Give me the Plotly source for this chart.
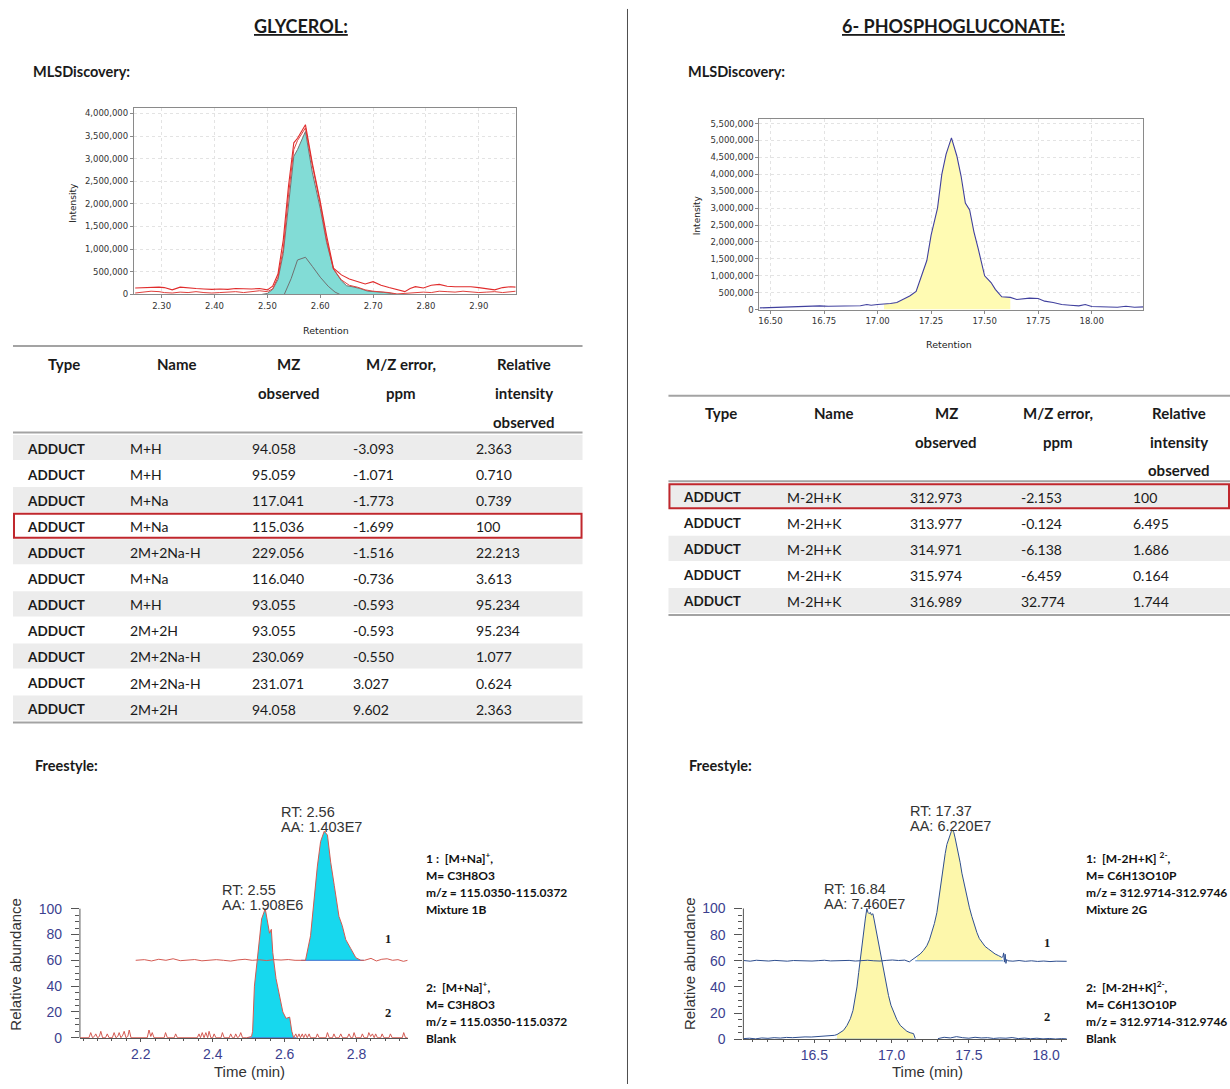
import numpy as np
import plotly.graph_objects as go

# ---------------------------------------------------------------------------
# MLSDiscovery - glycerol extracted-ion chromatograms (retention in min, counts)
gly_mls_rt = [2.250, 2.265, 2.280, 2.295, 2.305, 2.320, 2.335, 2.350, 2.365, 2.380,
              2.395, 2.410, 2.425, 2.440, 2.455, 2.470, 2.485, 2.500, 2.510, 2.520,
              2.530, 2.540, 2.550, 2.557, 2.572, 2.585, 2.600, 2.612, 2.625, 2.640,
              2.655, 2.670, 2.685, 2.700, 2.715, 2.730, 2.745, 2.760, 2.770, 2.780,
              2.795, 2.810, 2.825, 2.840, 2.855, 2.870, 2.885, 2.900, 2.915, 2.930,
              2.945, 2.960, 2.970]
gly_mls_upper = [140000, 150000, 160000, 160000, 150000, 100000, 160000, 140000, 130000, 120000,
                 110000, 120000, 110000, 130000, 120000, 120000, 130000, 100000, 180000, 450000,
                 1200000, 2400000, 3350000, 3450000, 3750000, 2900000, 2050000, 1300000, 580000, 430000,
                 340000, 290000, 230000, 280000, 200000, 150000, 110000, 60000, 130000, 170000,
                 140000, 200000, 220000, 180000, 170000, 170000, 170000, 150000, 120000, 100000,
                 150000, 170000, 160000]
gly_mls_lower = [30000, 50000, 70000, 60000, 40000, 30000, 50000, 40000, 60000, 40000,
                 30000, 40000, 50000, 60000, 40000, 60000, 80000, 60000, 120000, 380000,
                 1000000, 2200000, 3200000, 3400000, 3680000, 2850000, 2000000, 1200000, 560000, 320000,
                 200000, 160000, 100000, 70000, 60000, 40000, 10000, 20000, 40000, 40000,
                 50000, 40000, 70000, 60000, 50000, 70000, 60000, 40000, 50000, 60000,
                 40000, 60000, 70000]
gly_mls_peak_rt = [2.490, 2.500, 2.510, 2.520, 2.530, 2.540, 2.550, 2.557, 2.572, 2.585, 2.600,
                   2.612, 2.625, 2.640, 2.650, 2.660, 2.675, 2.690, 2.705, 2.720, 2.735, 2.745]
gly_mls_peak_int = [0, 20000, 110000, 330000, 900000, 2000000, 3050000, 3200000, 3600000, 2700000, 1900000,
                    1150000, 560000, 300000, 190000, 170000, 130000, 70000, 60000, 45000, 20000, 0]
gly_mls_iso_rt = [2.532, 2.545, 2.557, 2.572, 2.585, 2.600, 2.615, 2.628, 2.637]
gly_mls_iso_int = [0, 350000, 760000, 820000, 620000, 380000, 180000, 50000, 0]

# MLSDiscovery - 6-phosphogluconate
pg_mls_rt = [16.45, 16.50, 16.55, 16.60, 16.63, 16.67, 16.70, 16.73, 16.77, 16.80,
             16.85, 16.88, 16.92, 16.95, 16.97, 17.00, 17.03, 17.06, 17.09, 17.12,
             17.15, 17.18, 17.20, 17.23, 17.25, 17.28, 17.30, 17.32, 17.345, 17.37,
             17.39, 17.41, 17.43, 17.45, 17.47, 17.50, 17.53, 17.55, 17.58, 17.62,
             17.65, 17.68, 17.71, 17.75, 17.78, 17.82, 17.86, 17.90, 17.94, 17.97,
             18.00, 18.04, 18.08, 18.12, 18.16, 18.20, 18.25]
pg_mls_int = [50000, 60000, 80000, 100000, 90000, 100000, 100000, 110000, 100000, 105000,
              110000, 120000, 115000, 150000, 130000, 150000, 160000, 180000, 210000, 300000,
              400000, 540000, 900000, 1450000, 2200000, 3000000, 4000000, 4600000, 5080000, 4550000,
              3950000, 3150000, 2950000, 2300000, 1800000, 1000000, 800000, 600000, 380000, 360000,
              300000, 320000, 340000, 330000, 250000, 210000, 150000, 130000, 110000, 150000,
              90000, 85000, 80000, 70000, 100000, 70000, 80000]
pg_mls_window = [17.03, 17.62]

# ---------------------------------------------------------------------------
# Adduct tables
table_header = ["Type", "Name", "MZ\nobserved", "M/Z error,\nppm", "Relative\nintensity\nobserved"]

gly_type = ["ADDUCT", "ADDUCT", "ADDUCT", "ADDUCT", "ADDUCT", "ADDUCT",
            "ADDUCT", "ADDUCT", "ADDUCT", "ADDUCT", "ADDUCT"]
gly_name = ["M+H", "M+H", "M+Na", "M+Na", "2M+2Na-H", "M+Na",
            "M+H", "2M+2H", "2M+2Na-H", "2M+2Na-H", "2M+2H"]
gly_mz = [94.058, 95.059, 117.041, 115.036, 229.056, 116.040,
          93.055, 93.055, 230.069, 231.071, 94.058]
gly_err = [-3.093, -1.071, -1.773, -1.699, -1.516, -0.736,
           -0.593, -0.593, -0.550, 3.027, 9.602]
gly_rel = [2.363, 0.710, 0.739, 100, 22.213, 3.613,
           95.234, 95.234, 1.077, 0.624, 2.363]
gly_selected = 3

pg_type = ["ADDUCT", "ADDUCT", "ADDUCT", "ADDUCT", "ADDUCT"]
pg_name = ["M-2H+K", "M-2H+K", "M-2H+K", "M-2H+K", "M-2H+K"]
pg_mz = [312.973, 313.977, 314.971, 315.974, 316.989]
pg_err = [-2.153, -0.124, -6.138, -6.459, 32.774]
pg_rel = [100, 6.495, 1.686, 0.164, 1.744]
pg_selected = 0

# ---------------------------------------------------------------------------
# Freestyle - glycerol (relative abundance vs time, min)
gly_fs_mix_rt = [2.036, 2.060, 2.080, 2.100, 2.120, 2.140, 2.160, 2.180, 2.200, 2.220,
                 2.240, 2.260, 2.280, 2.300, 2.320, 2.340, 2.360, 2.380, 2.400, 2.420,
                 2.440, 2.460, 2.479, 2.508, 2.522, 2.531, 2.541, 2.550, 2.560, 2.569,
                 2.578, 2.588, 2.601, 2.610, 2.620, 2.634, 2.648, 2.662, 2.672, 2.690,
                 2.705, 2.720, 2.735, 2.750, 2.765, 2.780, 2.792]
gly_fs_mix_ab = [0.0, 0.5, -0.5, 0.8, 0.0, 1.2, -0.3, 0.4, 0.6, -0.4,
                 0.2, 0.5, 0.0, -0.6, 0.3, 0.8, 0.0, 0.4, -0.2, 0.5,
                 0.2, 0.6, 0.0, 0.0, 19, 45, 73, 92, 100, 97,
                 76, 58, 34, 27, 16, 9, 2, 0.0, 0.0, 1.5,
                 -0.5, 0.8, 1.2, 0.0, 0.5, -0.8, 0.0]
gly_fs_mix_window = [2.508, 2.662]
gly_fs_mix_area = 1.403e7

gly_fs_blank_rt = [2.031, 2.056, 2.061, 2.066, 2.071, 2.075, 2.080, 2.085, 2.089, 2.094,
                   2.102, 2.107, 2.112, 2.121, 2.126, 2.131, 2.136, 2.140, 2.145, 2.150,
                   2.154, 2.159, 2.164, 2.168, 2.173, 2.218, 2.223, 2.228, 2.232, 2.237,
                   2.265, 2.269, 2.274, 2.293, 2.297, 2.302, 2.357, 2.362, 2.366, 2.371,
                   2.376, 2.381, 2.386, 2.390, 2.395, 2.400, 2.404, 2.409, 2.423, 2.427,
                   2.432, 2.446, 2.450, 2.455, 2.460, 2.464, 2.469, 2.474, 2.478, 2.483,
                   2.495, 2.508, 2.511, 2.516, 2.523, 2.530, 2.536, 2.546, 2.551, 2.558,
                   2.563, 2.567, 2.576, 2.586, 2.595, 2.604, 2.614, 2.620, 2.625, 2.631,
                   2.635, 2.640, 2.644, 2.649, 2.653, 2.658, 2.663, 2.668, 2.672, 2.687,
                   2.691, 2.696, 2.715, 2.719, 2.724, 2.733, 2.737, 2.742, 2.751, 2.756,
                   2.761, 2.774, 2.779, 2.784, 2.789, 2.793, 2.798, 2.812, 2.816, 2.821,
                   2.830, 2.834, 2.839, 2.844, 2.849, 2.853, 2.858, 2.867, 2.871, 2.876,
                   2.890, 2.894, 2.899, 2.927, 2.931, 2.936, 2.942]
gly_fs_blank_ab = [0, 0, 4, 0, 1, 3, 0, 1, 5, 0,
                   0, 3, 0, 0, 4, 0, 1, 4, 0, 2,
                   5, 0, 1, 6, 0, 0, 6, 1, 4, 0,
                   0, 4, 0, 0, 3, 0, 0, 3, 0, 4,
                   0, 4, 0, 5, 0, 0, 3, 0, 0, 4,
                   0, 0, 3, 0, 0, 3, 0, 1, 4, 0,
                   0, 1, 5, 40, 58, 79, 92, 100, 92, 81,
                   84, 66, 46, 33, 20, 15, 16, 5, 0, 3,
                   0, 3, 0, 3, 0, 3, 0, 3, 0, 0,
                   3, 0, 0, 4, 0, 0, 3, 0, 0, 3,
                   0, 0, 3, 0, 0, 4, 0, 0, 3, 0,
                   0, 4, 1, 3, 0, 3, 0, 0, 3, 0,
                   0, 3, 0, 0, 4, 0, 0]
gly_fs_blank_window = [2.508, 2.625]
gly_fs_blank_area = 1.908e6

# stacked display offsets of the mixture trace (time, abundance)
gly_fs_mix_offset = [0.15, 60]

# Freestyle - 6-phosphogluconate
pg_fs_mix_rt = [16.018, 16.060, 16.100, 16.140, 16.180, 16.220, 16.260, 16.300, 16.340, 16.380,
                16.420, 16.460, 16.500, 16.540, 16.580, 16.620, 16.660, 16.700, 16.740, 16.780,
                16.820, 16.860, 16.900, 16.940, 16.980, 17.020, 17.060, 17.090, 17.117, 17.140,
                17.160, 17.182, 17.203, 17.220, 17.236, 17.252, 17.268, 17.279, 17.290, 17.301,
                17.311, 17.322, 17.333, 17.344, 17.354, 17.362, 17.370, 17.378, 17.386, 17.397,
                17.408, 17.419, 17.430, 17.446, 17.462, 17.478, 17.494, 17.510, 17.527, 17.543,
                17.559, 17.580, 17.602, 17.623, 17.645, 17.666, 17.688, 17.695, 17.700, 17.705,
                17.710, 17.715, 17.720, 17.728, 17.760, 17.800, 17.840, 17.880, 17.920, 17.960,
                18.000, 18.040, 18.080, 18.108]
pg_fs_mix_ab = [0.2, -0.3, 0.4, 0.0, -0.2, 0.3, 0.1, -0.3, 0.2, 0.0,
                0.3, -0.2, 0.1, 0.4, -0.1, 0.2, 0.0, 0.3, -0.2, 0.1,
                0.4, 0.0, -0.2, 0.3, 0.6, 0.2, 0.5, -0.8, 1.4, 3.0,
                5.2, 8.0, 11.5, 16.0, 21.6, 28.5, 36.8, 46.0, 57.0, 66.0,
                75.0, 82.0, 89.0, 93.0, 96.0, 99.0, 100.0, 98.0, 94.0, 88.0,
                82.0, 75.0, 67.0, 58.0, 49.5, 41.0, 34.0, 27.0, 21.6, 17.0,
                14.0, 11.0, 9.0, 7.0, 5.2, 4.0, 2.6, 3.0, 6.0, -1.0,
                5.0, -2.0, 1.0, 0.0, -0.3, 0.2, -0.4, 0.0, -0.5, -0.2,
                -0.6, -0.3, -0.5, -0.4]
pg_fs_mix_window = [17.140, 17.688]
pg_fs_mix_area = 6.220e7
pg_fs_mix_offset = [0.025, 60]

pg_fs_blank_rt = [16.043, 16.080, 16.120, 16.160, 16.200, 16.240, 16.280, 16.320, 16.360, 16.400,
                  16.440, 16.480, 16.520, 16.560, 16.600, 16.630, 16.647, 16.669, 16.689, 16.711,
                  16.733, 16.750, 16.765, 16.776, 16.787, 16.798, 16.808, 16.820, 16.830, 16.840,
                  16.847, 16.855, 16.862, 16.870, 16.879, 16.886, 16.894, 16.905, 16.916, 16.932,
                  16.948, 16.964, 16.980, 16.996, 17.013, 17.034, 17.056, 17.078, 17.099, 17.120,
                  17.142, 17.153, None, 17.300, 17.340, 17.380, 17.420, 17.460, 17.500, 17.540,
                  17.580, 17.620, 17.660, 17.700, 17.740, 17.780, 17.820, 17.860, 17.900, 17.940,
                  17.980, 18.020, 18.060, 18.100, 18.133]
pg_fs_blank_ab = [0.5, 0.8, 0.3, 1.0, 0.7, 1.2, 0.9, 1.4, 1.2, 1.6,
                  1.8, 1.7, 2.0, 2.2, 2.6, 3.0, 3.6, 5.0, 6.8, 10.5,
                  15.7, 22.0, 31.0, 40.0, 51.0, 62.0, 74.0, 84.0, 92.0, 100.0,
                  97.0, 96.0, 97.0, 95.0, 96.0, 92.0, 87.0, 79.0, 71.0, 61.0,
                  51.0, 42.0, 33.5, 26.0, 20.8, 15.0, 10.6, 8.0, 6.1, 5.0,
                  4.3, 0.5, None, 0.5, 1.5, 1.0, 2.0, 1.2, 0.8, 1.5,
                  1.0, 1.2, 0.6, 1.0, 0.8, 1.3, 0.5, 0.9, 0.4, 0.8,
                  0.3, 0.6, 0.2, 0.5, 0.3]
pg_fs_blank_window = [16.647, 17.142]
pg_fs_blank_area = 7.460e7

# ion descriptions printed next to the Freestyle panels
gly_ion_notes = [["1 :\u00a0 [M+Na]<sup>+</sup>,", "M= C3H8O3", "m/z = 115.0350-115.0372", "Mixture 1B"],
                 ["2:\u00a0 [M+Na]<sup>+</sup>,", "M= C3H8O3", "m/z = 115.0350-115.0372", "Blank"]]
pg_ion_notes = [["1:\u00a0 [M-2H+K]\u00a0<sup>2-</sup>,", "M= C6H13O10P", "m/z = 312.9714-312.9746", "Mixture 2G"],
                ["2:\u00a0 [M-2H+K]<sup>2-</sup>,", "M= C6H13O10P", "m/z = 312.9714-312.9746", "Blank"]]

# ---------------------------------------------------------------------------
W, H = 1230, 1089
DOC_FONT = "Lato, Carlito, Calibri, sans-serif"
MLS_FONT = "DejaVu Sans, Verdana, sans-serif"
XC_FONT = "Liberation Sans, Arial, sans-serif"
SERIF = "Liberation Serif, Times New Roman, serif"
PAD = 3  # inner padding plotly puts around annotation text


def px(x):
    return x / W


def py(y):
    return 1 - y / H


fig = go.Figure()
annotations = []
shapes = []


def text(x, y, s, size=13, family=DOC_FONT, color="#1a1a1a", xanchor="left", yanchor="middle",
         angle=0, align="left"):
    if xanchor == "left":
        x -= PAD
    annotations.append(dict(x=px(x), y=py(y), xref="paper", yref="paper", text=s, showarrow=False,
                            xanchor=xanchor, yanchor=yanchor, textangle=angle, align=align,
                            font=dict(family=family, size=size, color=color)))


def hline(x0, x1, y, color="#a3a3a3", width=2):
    shapes.append(dict(type="line", xref="paper", yref="paper", x0=px(x0), x1=px(x1),
                       y0=py(y), y1=py(y), line=dict(color=color, width=width)))


def fmt_num(v):
    return f"{v:.0f}" if float(v).is_integer() else f"{v:.3f}"


def fmt_area(a):
    e = int(np.floor(np.log10(a)))
    return f"{a / 10 ** e:.3f}E{e}"


# ---------------- headings ----------------
text(300, 25, "<b><u>GLYCEROL:</u></b>", size=18, xanchor="center")
text(953, 25, "<b><u>6- PHOSPHOGLUCONATE:</u></b>", size=18, xanchor="center")
text(33, 71, "<b>MLSDiscovery:</b>", size=14.5)
text(689, 71, "<b>MLSDiscovery:</b>", size=14.5)
text(35, 769, "<b>Freestyle:</b>", size=14.5)
text(690, 769, "<b>Freestyle:</b>", size=14.5)
shapes.append(dict(type="line", xref="paper", yref="paper", x0=px(627), x1=px(627),
                   y0=py(8), y1=py(1089), line=dict(color="#4d4d4d", width=1)))

# ---------------- MLSDiscovery panels ----------------
fig.add_trace(go.Scatter(x=gly_mls_peak_rt, y=gly_mls_peak_int, mode="lines", fill="tozeroy",
                         fillcolor="#82dcd6", line=dict(color="#737373", width=1),
                         xaxis="x", yaxis="y", hoverinfo="skip"))
fig.add_trace(go.Scatter(x=gly_mls_iso_rt, y=gly_mls_iso_int, mode="lines",
                         line=dict(color="#707070", width=1), xaxis="x", yaxis="y", hoverinfo="skip"))
fig.add_trace(go.Scatter(x=gly_mls_rt, y=gly_mls_lower, mode="lines",
                         line=dict(color="#e0413d", width=1), xaxis="x", yaxis="y", hoverinfo="skip"))
fig.add_trace(go.Scatter(x=gly_mls_rt, y=gly_mls_upper, mode="lines",
                         line=dict(color="#e02c2c", width=1.1), xaxis="x", yaxis="y", hoverinfo="skip"))

pg_fill = [(r, v) for r, v in zip(pg_mls_rt, pg_mls_int) if pg_mls_window[0] <= r <= pg_mls_window[1]]
fig.add_trace(go.Scatter(x=[r for r, _ in pg_fill], y=[v for _, v in pg_fill], mode="lines",
                         fill="tozeroy", fillcolor="#fffbb3", line=dict(width=0),
                         xaxis="x2", yaxis="y2", hoverinfo="skip"))
fig.add_trace(go.Scatter(x=pg_mls_rt, y=pg_mls_int, mode="lines",
                         line=dict(color="#40409e", width=1.1), xaxis="x2", yaxis="y2", hoverinfo="skip"))

mls_axis = dict(showline=True, mirror=True, linecolor="#8a8a8a", linewidth=1, ticks="outside",
                ticklen=3, tickcolor="#8a8a8a", showgrid=True, gridcolor="#e3e3e3", griddash="dot",
                gridwidth=1, zeroline=False, tickfont=dict(family=MLS_FONT, size=8.5, color="#333333"))

text(72, 203, "Intensity", size=9, family=MLS_FONT, color="#222222", xanchor="center", angle=-90)
text(325, 331, "Retention", size=9.5, family=MLS_FONT, color="#222222", xanchor="center")
text(696, 215, "Intensity", size=9, family=MLS_FONT, color="#222222", xanchor="center", angle=-90)
text(949, 345, "Retention", size=9.5, family=MLS_FONT, color="#222222", xanchor="center")

# ---------------- adduct tables ----------------
ROW_H = 26.2


def draw_table(x0, x1, top_line, header_y, first_row_y, centers, lefts, columns, selected):
    hline(x0, x1, top_line)
    for c, head in enumerate(table_header):
        for k, part in enumerate(head.split("\n")):
            text(centers[c], header_y + 29 * k, f"<b>{part}</b>", size=15, xanchor="center")
    n = len(columns[0])
    hline(x0, x1, first_row_y - ROW_H / 2 - 2)
    for i in range(n):
        yc = first_row_y + ROW_H * i
        if i % 2 == 0:
            shapes.append(dict(type="rect", xref="paper", yref="paper", x0=px(x0), x1=px(x1),
                               y0=py(yc + ROW_H / 2 - 0.5), y1=py(yc - ROW_H / 2 + 0.5),
                               fillcolor="#ececec", line=dict(width=0), layer="below"))
        for c, col in enumerate(columns):
            v = col[i]
            s = v if isinstance(v, str) else fmt_num(v)
            if c == 0:
                text(lefts[c], yc + 1, f"<b>{s}</b>", size=13.5)
            else:
                text(lefts[c], yc + 1, s, size=14)
    hline(x0, x1, first_row_y + ROW_H * (n - 0.5) + 1.5)
    ys = first_row_y + ROW_H * selected
    shapes.append(dict(type="rect", xref="paper", yref="paper", x0=px(x0 + 1), x1=px(x1 - 1),
                       y0=py(ys + 12), y1=py(ys - 12), line=dict(color="#c0272d", width=2)))


draw_table(12, 582, 347, 365, 449, [63, 176, 288, 400, 523], [27, 130, 252, 353, 476],
           [gly_type, gly_name, gly_mz, gly_err, gly_rel], gly_selected)
draw_table(668, 1230, 397, 414, 498, [721, 834, 946, 1058, 1179], [684, 788, 911, 1022, 1134],
           [pg_type, pg_name, pg_mz, pg_err, pg_rel], pg_selected)

# ---------------- Freestyle panels ----------------
XC_LINE = {"x3": "#d45a52", "x4": "#2f4f8f"}
XC_FILL = {"x3": "#17d8ee", "x4": "#fdf7ab"}
XC_BASE = {"x3": "#3a6fd0", "x4": "#5a8fd0"}
XC_LABEL = dict(family=XC_FONT, size=14.5, color="#333333")


def xc_trace(rt, ab, window, area, offset, xa, ya):
    dx, dy = offset
    inside = [(r, a) for r, a in zip(rt, ab) if r is not None and window[0] <= r <= window[1]]
    fx = [r + dx for r, _ in inside] + [window[1] + dx, window[0] + dx]
    fy = [a + dy for _, a in inside] + [dy, dy]
    fill = go.Scatter(x=fx, y=fy, mode="lines", fill="toself", fillcolor=XC_FILL[xa],
                      line=dict(width=0), xaxis=xa, yaxis=ya, hoverinfo="skip")
    base = go.Scatter(x=[window[0] + dx - 0.012, window[1] + dx + 0.008], y=[dy, dy], mode="lines",
                      line=dict(color=XC_BASE[xa], width=1), xaxis=xa, yaxis=ya, hoverinfo="skip")
    line = go.Scatter(x=[None if r is None else r + dx for r in rt],
                      y=[None if a is None else a + dy for a in ab], mode="lines",
                      line=dict(color=XC_LINE[xa], width=1), connectgaps=False,
                      xaxis=xa, yaxis=ya, hoverinfo="skip")
    r_apex, a_apex = max(inside, key=lambda p: p[1])
    for label, lift in ((f"RT: {r_apex:.2f}", 19), (f"AA: {fmt_area(area)}", 4)):
        annotations.append(dict(x=r_apex + dx, y=a_apex + dy, xref=xa, yref=ya, text=label,
                                showarrow=False, xanchor="left", yanchor="middle",
                                xshift=-45, yshift=lift, font=XC_LABEL))
    return fill, base, line


gly_parts = [xc_trace(gly_fs_mix_rt, gly_fs_mix_ab, gly_fs_mix_window, gly_fs_mix_area,
                      gly_fs_mix_offset, "x3", "y3"),
             xc_trace(gly_fs_blank_rt, gly_fs_blank_ab, gly_fs_blank_window, gly_fs_blank_area,
                      [0, 0], "x3", "y3")]
pg_parts = [xc_trace(pg_fs_mix_rt, pg_fs_mix_ab, pg_fs_mix_window, pg_fs_mix_area,
                     pg_fs_mix_offset, "x4", "y4"),
            xc_trace(pg_fs_blank_rt, pg_fs_blank_ab, pg_fs_blank_window, pg_fs_blank_area,
                     [0, 0], "x4", "y4")]
for parts in (gly_parts, pg_parts):
    for k in range(3):
        for p in parts:
            fig.add_trace(p[k])

# geometry of the two Freestyle plots (pixel rows of abundance 0 and pixel per unit)
GLY_Y0, GLY_S = 1042.5, 1.298
PG_Y0, PG_S = 1044.0, 1.315
AB_RANGE = [-3, 190]

xc_tickfont = dict(family=XC_FONT, size=14, color="#3c3f8f")
xc_x = dict(showline=True, linecolor="#555555", linewidth=1, ticks="outside", ticklen=3,
            tickcolor="#555555", showgrid=False, zeroline=False, tickfont=xc_tickfont,
            anchor="free", tickformat=".1f")
xc_y = dict(showline=False, showgrid=False, zeroline=False, ticks="outside", ticklen=8,
            tickcolor="#555555", tickfont=xc_tickfont, range=AB_RANGE, ticklabelstandoff=6,
            tickmode="array", tickvals=[0, 20, 40, 60, 80, 100],
            minor=dict(tickmode="array", tickvals=[v for v in range(5, 100, 5) if v % 20],
                       ticks="outside", ticklen=4, tickcolor="#555555", showgrid=False))

for xa_px, ya in ((79, "y3"), (743, "y4")):
    shapes.append(dict(type="line", xref="paper", yref=ya, x0=px(xa_px), x1=px(xa_px), y0=0, y1=100,
                       line=dict(color="#555555", width=1)))

text(15, 968, "Relative abundance", size=15, family=XC_FONT, color="#333333", xanchor="center", angle=-90)
text(249, 1076, "Time (min)", size=15, family=XC_FONT, color="#333333", xanchor="center")
text(689, 968, "Relative abundance", size=15, family=XC_FONT, color="#333333", xanchor="center", angle=-90)
text(927, 1076, "Time (min)", size=15, family=XC_FONT, color="#333333", xanchor="center")

text(387, 943, "<b>1</b>", size=12.5, family=SERIF, xanchor="center")
text(387, 1018, "<b>2</b>", size=12.5, family=SERIF, xanchor="center")
text(1047, 947, "<b>1</b>", size=12.5, family=SERIF, xanchor="center")
text(1047, 1022, "<b>2</b>", size=12.5, family=SERIF, xanchor="center")

for notes, x0 in ((gly_ion_notes, 426), (pg_ion_notes, 1087)):
    for block, y0 in zip(notes, (862, 991.5)):
        for k, line in enumerate(block):
            text(x0, y0 + 17.3 * k, f"<b>{line}</b>", size=12, color="#111111")

fig.update_layout(
    width=W, height=H, margin=dict(l=0, r=0, t=0, b=0),
    paper_bgcolor="white", plot_bgcolor="white", showlegend=False,
    xaxis=dict(mls_axis, domain=[px(133), px(515)], range=[2.2475, 2.9695], tick0=2.3, dtick=0.1,
               tickformat=".2f", anchor="y"),
    yaxis=dict(mls_axis, domain=[py(295), py(108)], range=[0, 4.11e6], dtick=500000,
               tickformat=",", anchor="x"),
    xaxis2=dict(mls_axis, domain=[px(759), px(1143)], range=[16.448, 18.24], tick0=16.5, dtick=0.25,
                tickformat=".2f", anchor="y2"),
    yaxis2=dict(mls_axis, domain=[py(310.3), py(119)], range=[0, 5.626e6], dtick=500000,
                tickformat=",", anchor="x2"),
    xaxis3=dict(xc_x, domain=[px(79), px(407)], range=[2.031, 2.942], position=py(GLY_Y0),
                tick0=2.2, dtick=0.2,
                minor=dict(ticks="outside", ticklen=2, tick0=2.2, dtick=0.04, tickcolor="#555555",
                           showgrid=False)),
    yaxis3=dict(xc_y, domain=[py(GLY_Y0 - AB_RANGE[0] * GLY_S), py(GLY_Y0 - AB_RANGE[1] * GLY_S)],
                anchor="x3"),
    xaxis4=dict(xc_x, domain=[px(743), px(1067)], range=[16.041, 18.136], position=py(PG_Y0),
                tick0=16.5, dtick=0.5,
                minor=dict(ticks="outside", ticklen=2, tick0=16.5, dtick=0.1, tickcolor="#555555",
                           showgrid=False)),
    yaxis4=dict(xc_y, domain=[py(PG_Y0 - AB_RANGE[0] * PG_S), py(PG_Y0 - AB_RANGE[1] * PG_S)],
                anchor="x4"),
    annotations=annotations,
    shapes=shapes,
)

fig.write_html("out.html")
